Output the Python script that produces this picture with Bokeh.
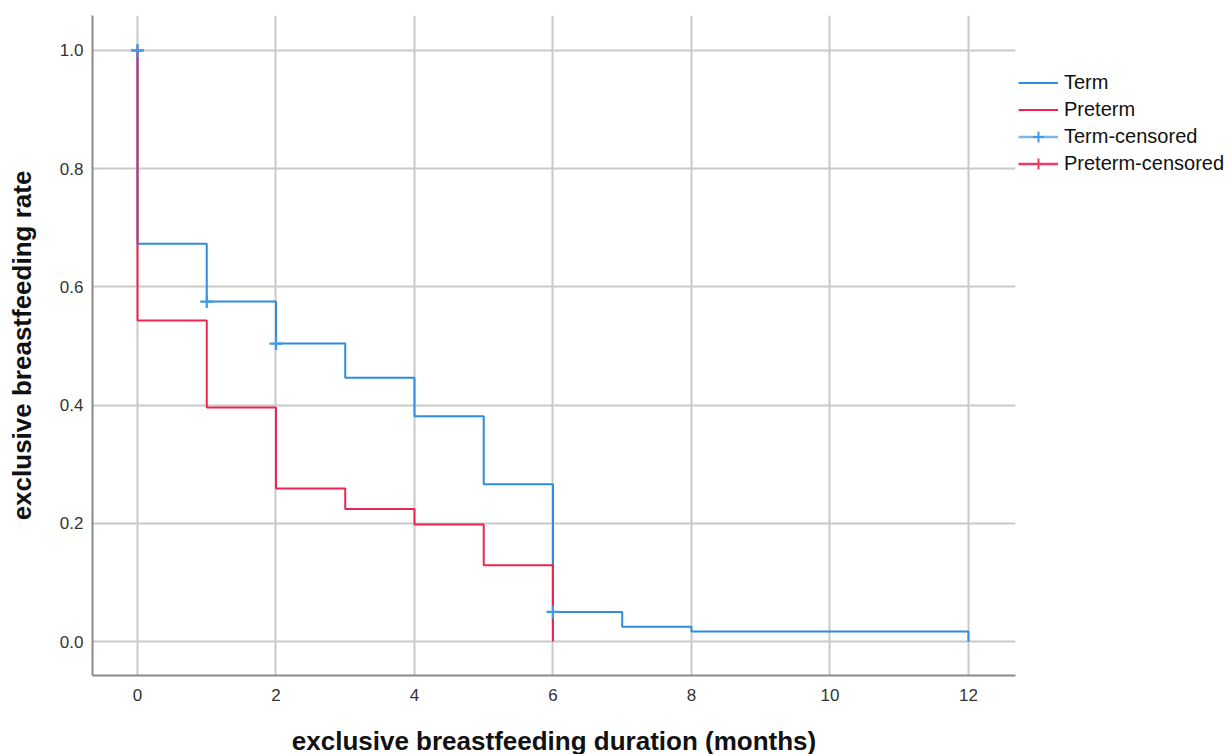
from bokeh.plotting import figure
from bokeh.models import Range1d, FixedTicker, PrintfTickFormatter, Legend, LegendItem
from bokeh.embed import file_html
from bokeh.resources import INLINE

# ---- data ----
term_t = [0, 0, 1, 2, 3, 4, 5, 6, 7, 8, 12]
term_s = [1.0, 0.673, 0.575, 0.504, 0.446, 0.381, 0.266, 0.050, 0.025, 0.017, 0.0]
pre_t = [0, 0, 1, 2, 3, 4, 5, 6]
pre_s = [1.0, 0.543, 0.396, 0.259, 0.224, 0.198, 0.129, 0.0]
term_cens_t = [0, 1, 2, 6]
term_cens_s = [1.0, 0.575, 0.504, 0.050]
pre_cens_t = [0]
pre_cens_s = [1.0]
x_ticks = [0, 2, 4, 6, 8, 10, 12]
y_ticks = [0.0, 0.2, 0.4, 0.6, 0.8, 1.0]

TERM = "#2b8de2"
PRE = "#ee2450"
TERM_C = "#3f98e8"
TERM_CL = "#78b8f0"
PRE_C = "#f03a62"
FONT = "Liberation Sans"

p = figure(frame_width=923, frame_height=660, output_backend="svg", toolbar_location=None,
           x_range=Range1d(-0.65, 12.68), y_range=Range1d(-0.0575, 1.059),
           min_border_left=92, min_border_right=5, min_border_top=15, min_border_bottom=77)
p.outline_line_color = None
p.background_fill_color = "white"
p.border_fill_color = "white"

for ax in (p.xaxis[0], p.yaxis[0]):
    ax.axis_line_color = "#8a8a8a"
    ax.axis_line_width = 2
    ax.major_tick_out = 0
    ax.major_tick_in = 0
    ax.minor_tick_out = 0
    ax.minor_tick_in = 0
    ax.major_label_text_font = FONT
    ax.major_label_text_font_size = "17px"
    ax.major_label_text_color = "#333333"
    ax.axis_label_text_font = FONT
    ax.axis_label_text_font_style = "bold"
    ax.axis_label_text_font_size = "26px"
    ax.axis_label_text_color = "#111111"

p.xaxis.ticker = FixedTicker(ticks=x_ticks)
p.yaxis.ticker = FixedTicker(ticks=y_ticks)
p.yaxis.formatter = PrintfTickFormatter(format="%.1f")
p.xaxis.axis_label = "exclusive breastfeeding duration (months)"
p.yaxis.axis_label = "exclusive breastfeeding rate"
p.xaxis.major_label_standoff = 13
p.xaxis.axis_label_standoff = 22
p.yaxis.major_label_standoff = 9
p.yaxis.axis_label_standoff = 20

p.xgrid.ticker = FixedTicker(ticks=x_ticks)
p.ygrid.ticker = FixedTicker(ticks=y_ticks)
for g in (p.xgrid[0], p.ygrid[0]):
    g.grid_line_color = "#c9c9c9"
    g.grid_line_width = 2

r_term = p.step(term_t, term_s, mode="after", line_color=TERM, line_width=2)
r_pre = p.step(pre_t, pre_s, mode="after", line_color=PRE, line_width=2)
r_pc = p.scatter(pre_cens_t, pre_cens_s, marker="cross", size=10, line_color=PRE_C, line_width=2)
r_tc = p.scatter(term_cens_t, term_cens_s, marker="cross", size=13, line_color=TERM_C, line_width=2.2)

# legend-only renderers (lines behind crosses in legend icons)
l_tc = p.line([0], [1.0], line_color=TERM_CL, line_width=2.5, visible=False)
l_pc = p.line([0], [1.0], line_color=PRE_C, line_width=2.5, visible=False)
s_tc = p.scatter([0], [1.0], marker="cross", size=22, line_color=TERM_C, line_width=2, visible=False)
s_pc = p.scatter([0], [1.0], marker="cross", size=22, line_color=PRE_C, line_width=2, visible=False)

legend = Legend(items=[
    LegendItem(label="Term", renderers=[r_term]),
    LegendItem(label="Preterm", renderers=[r_pre]),
    LegendItem(label="Term-censored", renderers=[l_tc, s_tc]),
    LegendItem(label="Preterm-censored", renderers=[l_pc, s_pc]),
], location=(3, 498))
legend.border_line_color = None
legend.background_fill_alpha = 0
legend.padding = 0
legend.margin = 0
legend.spacing = 0
legend.glyph_width = 40
legend.glyph_height = 27
legend.label_height = 27
legend.label_standoff = 6
legend.label_text_font = FONT
legend.label_text_font_size = "20px"
legend.label_text_color = "#111111"
p.add_layout(legend, "right")

open("out.html", "w").write(file_html(p, INLINE))
